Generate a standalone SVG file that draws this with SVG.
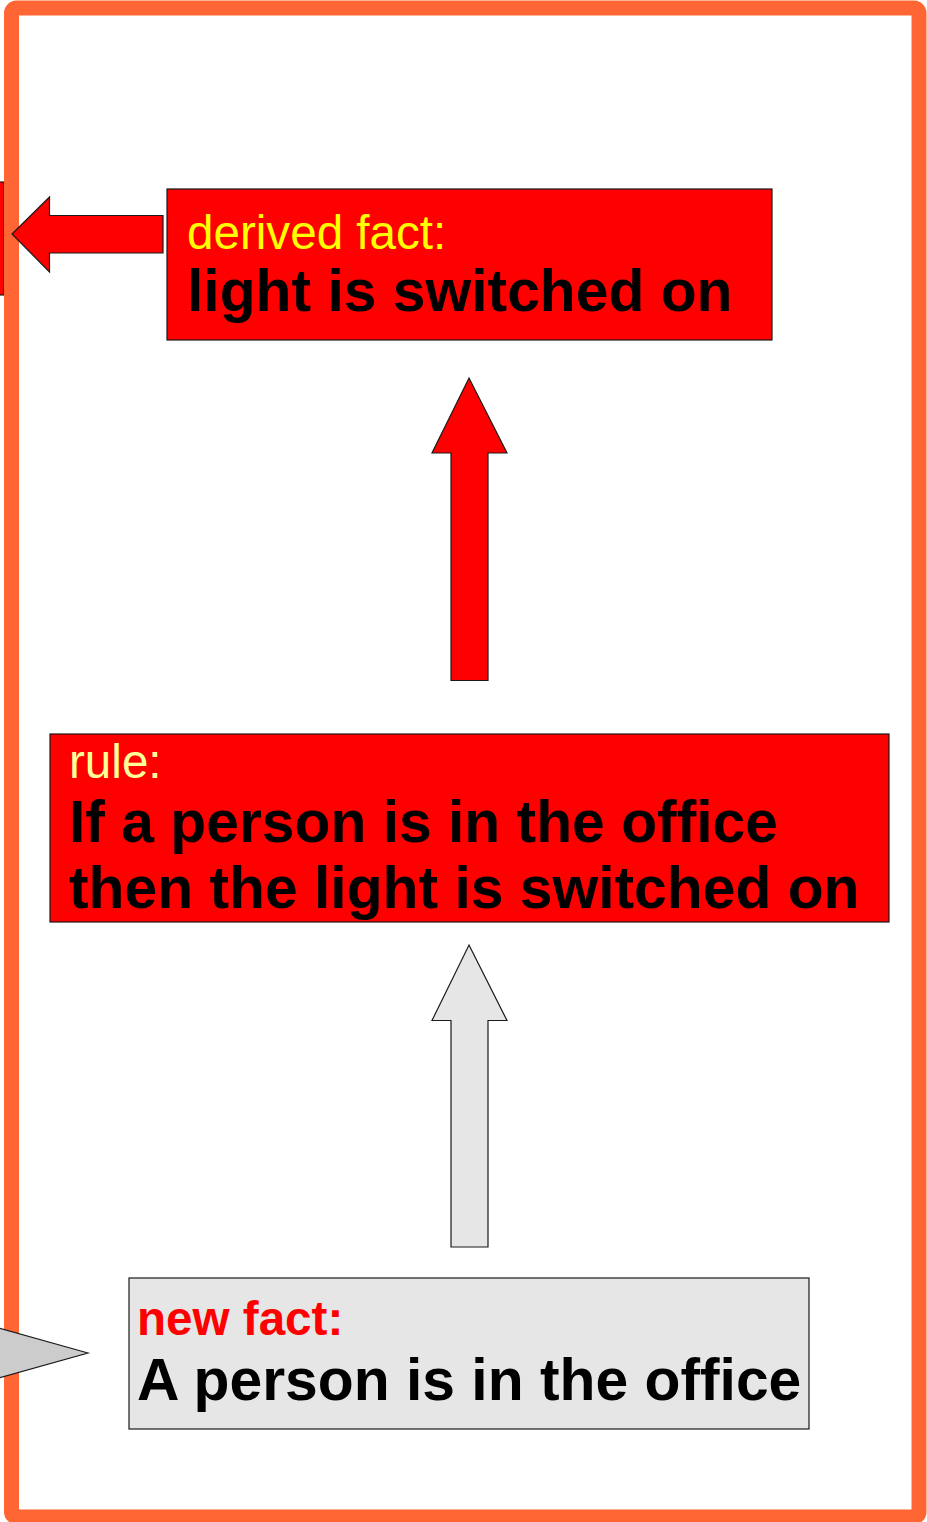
<svg xmlns="http://www.w3.org/2000/svg" width="927" height="1522" viewBox="0 0 927 1522">
<style>
.lbl{font-family:"Liberation Sans",Arial,sans-serif;font-size:47.6px}
.big{font-family:"Liberation Sans",Arial,sans-serif;font-size:58.8px;font-weight:bold;fill:#000}
.red{fill:#ff0000;stroke:#1a1a1a;stroke-width:1.2}
.gray{fill:#e6e6e6;stroke:#1a1a1a;stroke-width:1.2}
</style>
<rect width="927" height="1522" fill="#fff"/>
<g id="offscreen-left">
<rect x="-10" y="182" width="14" height="113" class="red"/>
</g>
<g id="frame">
<rect x="11.5" y="8" width="907.5" height="1509" rx="5" fill="none" stroke="#ff6633" stroke-width="15"/>
</g>
<g id="connectors">
<polygon class="red" points="12,234 49.5,197 49.5,215.5 163,215.5 163,253 49.5,253 49.5,272"/>
<polygon class="red" points="469,378 507,453 488,453 488,680.5 451,680.5 451,453 432,453"/>
<polygon class="gray" points="469,945 507,1020.5 488,1020.5 488,1247 451,1247 451,1020.5 432,1020.5"/>
<polygon points="88,1353 -5,1327 -5,1379" fill="#cccccc" stroke="#1a1a1a" stroke-width="1.2"/>
</g>
<g id="derived-fact">
<rect x="167" y="189" width="605" height="151" class="red"/>
<text x="187" y="249" class="lbl" fill="#ffff00">derived fact:</text>
<text x="187" y="311" class="big">light is switched on</text>
</g>
<g id="rule">
<rect x="50" y="734" width="839" height="188" class="red"/>
<text x="69" y="778" class="lbl" fill="#ffff99">rule:</text>
<text x="69" y="842" class="big">If a person is in the office</text>
<text x="69" y="908" class="big">then the light is switched on</text>
</g>
<g id="new-fact">
<rect x="129" y="1278" width="680" height="151" class="gray" stroke="#333"/>
<text x="137" y="1335" class="lbl" font-weight="bold" fill="#ff0000">new fact:</text>
<text x="137" y="1400" class="big">A person is in the office</text>
</g>
</svg>
